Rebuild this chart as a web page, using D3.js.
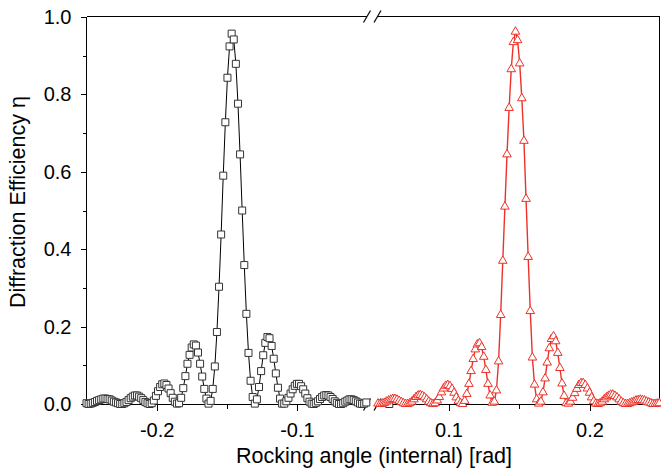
<!DOCTYPE html>
<html>
<head>
<meta charset="utf-8">
<script src="https://cdn.jsdelivr.net/npm/d3@7.9.0/dist/d3.min.js"></script>
<style>
  body { margin: 0; background: #fff; }
  text { font-family: "Liberation Sans", Arial, sans-serif; fill: #000; }
</style>
</head>
<body>
<svg id="chart" width="661" height="469"></svg>
<script>
// sampled rocking curves, uniform angle step
const angleStep = 0.0015;
const blackStart = -0.25;
const redStart = 0.05;

// black squares (negative angles)
const blackEff = [
  0.002, 0.000, 0.001, 0.003, 0.005, 0.008, 0.010, 0.012, 0.014, 0.014,
  0.013, 0.012, 0.009, 0.006, 0.004, 0.002, 0.000, 0.000, 0.002, 0.005,
  0.010, 0.015, 0.019, 0.022, 0.022, 0.019, 0.015, 0.010, 0.005, 0.002,
  0.000, 0.002, 0.009, 0.021, 0.033, 0.044, 0.051, 0.053, 0.049, 0.040,
  0.028, 0.016, 0.006, 0.001, 0.002, 0.016, 0.041, 0.072, 0.104, 0.127,
  0.146, 0.154, 0.151, 0.133, 0.104, 0.071, 0.039, 0.014, 0.001, 0.008,
  0.039, 0.097, 0.186, 0.303, 0.438, 0.590, 0.728, 0.843, 0.924, 0.957,
  0.942, 0.879, 0.776, 0.645, 0.500, 0.359, 0.233, 0.132, 0.060, 0.018,
  0.001, 0.012, 0.044, 0.085, 0.126, 0.158, 0.173, 0.170, 0.150, 0.117,
  0.079, 0.042, 0.014, 0.001, 0.001, 0.007, 0.016, 0.027, 0.038, 0.047,
  0.052, 0.052, 0.046, 0.038, 0.027, 0.015, 0.006, 0.001, 0.000, 0.003,
  0.007, 0.013, 0.018, 0.022, 0.023, 0.022, 0.018, 0.013, 0.007, 0.003,
  0.000, 0.000, 0.002, 0.006, 0.009, 0.012, 0.012, 0.010, 0.007, 0.004,
  0.001, 0.000, 0.001, 0.004
];

// red triangles (positive angles)
const redEff = [
  0.001, 0.000, 0.001, 0.003, 0.006, 0.009, 0.011, 0.013, 0.013, 0.011,
  0.008, 0.005, 0.002, 0.000, 0.000, 0.002, 0.006, 0.012, 0.018, 0.022,
  0.023, 0.021, 0.017, 0.012, 0.006, 0.002, 0.000, 0.002, 0.009, 0.018,
  0.030, 0.040, 0.047, 0.049, 0.046, 0.039, 0.029, 0.017, 0.008, 0.002,
  0.000, 0.008, 0.026, 0.052, 0.085, 0.116, 0.141, 0.154, 0.157, 0.147,
  0.122, 0.088, 0.052, 0.022, 0.003, 0.006, 0.035, 0.110, 0.230, 0.370,
  0.510, 0.645, 0.765, 0.865, 0.935, 0.962, 0.940, 0.880, 0.790, 0.680,
  0.530, 0.380, 0.240, 0.120, 0.050, 0.012, 0.001, 0.006, 0.030, 0.066,
  0.107, 0.144, 0.168, 0.175, 0.162, 0.132, 0.093, 0.053, 0.021, 0.002,
  0.001, 0.006, 0.016, 0.028, 0.039, 0.049, 0.054, 0.054, 0.049, 0.040,
  0.029, 0.017, 0.007, 0.001, 0.000, 0.002, 0.006, 0.012, 0.017, 0.021,
  0.024, 0.024, 0.021, 0.017, 0.012, 0.006, 0.002, 0.000, 0.000, 0.002,
  0.004, 0.006, 0.009, 0.010, 0.011, 0.010, 0.009, 0.006, 0.004, 0.002,
  0.000, 0.000, 0.001, 0.002
];

// lone black point shown after the break
const blackExtraX = [0.058];
const blackExtraY = [0.0];

const yTicks = [0, 0.2, 0.4, 0.6, 0.8, 1.0];
const yMinor = [0.1, 0.3, 0.5, 0.7, 0.9];
const leftTicks = [-0.2, -0.1];
const leftMinor = [-0.15];
const rightTicks = [0.1, 0.2];
const rightMinor = [0.15];

const blackData = blackEff.map((v, i) => [blackStart + i * angleStep, v]);
const redData = redEff.map((v, i) => [redStart + i * angleStep, v]);

const svg = d3.select('#chart');
const y = d3.scaleLinear().domain([0, 1]).range([404, 17]);
const xL = d3.scaleLinear().domain([-0.25, -0.05]).range([86.5, 367]);
const xR = d3.scaleLinear().domain([0.05, 0.25]).range([378, 660]);

const red = '#ec3228';

// axis frame with break
const frame = svg.append('g').attr('stroke', '#000').attr('stroke-width', 1)
  .attr('shape-rendering', 'crispEdges');
[[86.5, 367], [378, 659.5]].forEach(([a, b]) => {
  frame.append('line').attr('x1', a).attr('x2', b).attr('y1', 404.5).attr('y2', 404.5);
  frame.append('line').attr('x1', a).attr('x2', b).attr('y1', 16.5).attr('y2', 16.5);
});
frame.append('line').attr('x1', 86.5).attr('x2', 86.5).attr('y1', 16.5).attr('y2', 404.5);
frame.append('line').attr('x1', 659.5).attr('x2', 659.5).attr('y1', 16.5).attr('y2', 404.5);

// break slashes
const slashes = svg.append('g').attr('stroke', '#000').attr('stroke-width', 1.2);
[367, 377.5].forEach(cx => {
  [16.5, 404.5].forEach(cy => {
    slashes.append('line')
      .attr('x1', cx - 3.5).attr('y1', cy + 6)
      .attr('x2', cx + 3.5).attr('y2', cy - 6);
  });
});

// y axis
svg.append('g').attr('transform', 'translate(86.5,0)')
  .call(d3.axisLeft(y).tickValues(yTicks).tickSize(6).tickPadding(9)
    .tickFormat(d3.format('.1f')))
  .call(g => g.select('.domain').remove());
svg.append('g').attr('transform', 'translate(86.5,0)')
  .call(d3.axisLeft(y).tickValues(yMinor).tickSize(4).tickFormat(''))
  .call(g => g.select('.domain').remove());

// x axes
function xAxis(scale, major, minor) {
  svg.append('g').attr('transform', 'translate(0,404.5)')
    .call(d3.axisBottom(scale).tickValues(major).tickSize(6).tickPadding(12)
      .tickFormat(d => d3.format('.1f')(d).replace('−', '-')))
    .call(g => g.select('.domain').remove());
  svg.append('g').attr('transform', 'translate(0,404.5)')
    .call(d3.axisBottom(scale).tickValues(minor).tickSize(4).tickFormat(''))
    .call(g => g.select('.domain').remove());
}
xAxis(xL, leftTicks, leftMinor);
xAxis(xR, rightTicks, rightMinor);

svg.selectAll('.tick line').attr('stroke', '#000').attr('shape-rendering', 'crispEdges');
svg.selectAll('.tick text').style('font-size', '20px')
  .style('font-family', '"Liberation Sans", Arial, sans-serif').attr('fill', '#000');

// curves
const lineL = d3.line().x(d => xL(d[0])).y(d => y(d[1]));
const lineR = d3.line().x(d => xR(d[0])).y(d => y(d[1]));

svg.append('path').datum(blackData).attr('d', lineL)
  .attr('fill', 'none').attr('stroke', '#000').attr('stroke-width', 1);
svg.append('path').datum(redData).attr('d', lineR)
  .attr('fill', 'none').attr('stroke', red).attr('stroke-width', 1.4);

const square = d3.symbol(d3.symbolSquare, 49);
const tri = d3.symbol(d3.symbolTriangle, 32);

svg.append('g').selectAll('path').data(blackData).join('path')
  .attr('d', square)
  .attr('transform', d => `translate(${xL(d[0])},${y(d[1])})`)
  .attr('fill', '#fff').attr('stroke', '#333').attr('stroke-width', 1);

svg.append('g').selectAll('path').data(blackExtraX).join('path')
  .attr('d', square)
  .attr('transform', (d, i) => `translate(${xR(d)},${y(blackExtraY[i])})`)
  .attr('fill', '#fff').attr('stroke', '#333').attr('stroke-width', 1);

svg.append('g').selectAll('path').data(redData).join('path')
  .attr('d', tri)
  .attr('transform', d => `translate(${xR(d[0])},${y(d[1])})`)
  .attr('fill', '#fff').attr('stroke', red).attr('stroke-width', 1);

// axis titles
svg.append('text').attr('x', 374).attr('y', 463).attr('text-anchor', 'middle')
  .style('font-size', '21.5px').text('Rocking angle (internal) [rad]');
svg.append('text').attr('transform', 'translate(25,202) rotate(-90)')
  .attr('text-anchor', 'middle').style('font-size', '21.5px')
  .text('Diffraction Efficiency η');
</script>
</body>
</html>
